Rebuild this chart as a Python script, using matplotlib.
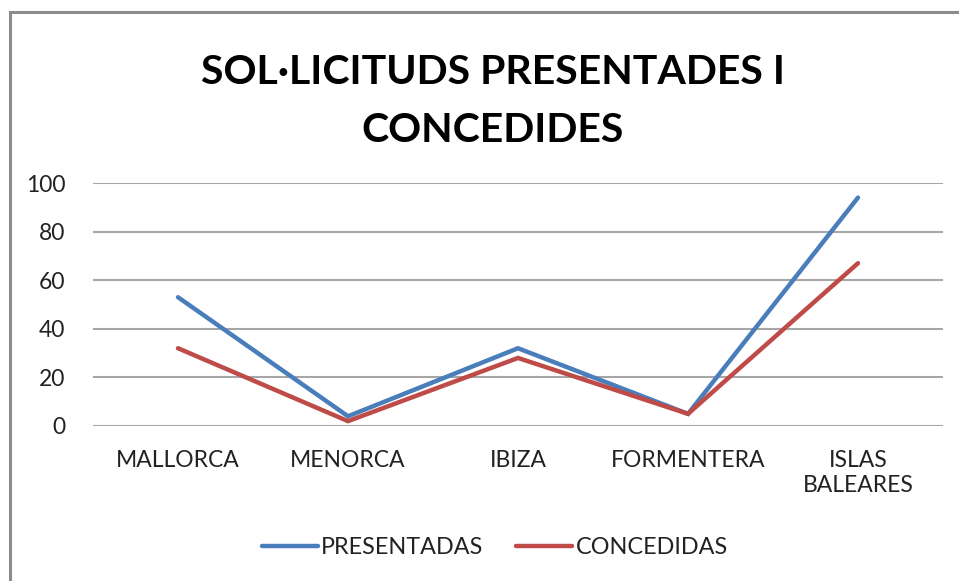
import matplotlib.pyplot as plt
from matplotlib.patches import Rectangle

# chart values
islands = ['MALLORCA', 'MENORCA', 'IBIZA', 'FORMENTERA', 'ISLAS\nBALEARES']
presentadas = [53, 4, 32, 5, 94]
concedidas = [32, 2, 28, 5, 67]
yticks = [0, 20, 40, 60, 80, 100]

plt.rcParams['font.family'] = ['Lato', 'DejaVu Sans']

W, H = 959, 581
fig = plt.figure(figsize=(W / 100, H / 100), dpi=100)

# outer chart border, runs off the right and bottom edges
fig.patches.append(Rectangle((10 / W, -0.05), 1.2, 1 - 12 / H + 0.05,
                             transform=fig.transFigure, fill=False,
                             edgecolor='#8c8c8c', linewidth=2.2))

ax = fig.add_axes([93 / W, 1 - 426 / H, 850 / W, 243 / H])
x = list(range(len(islands)))
ax.plot(x, presentadas, color='#4A7EBB', linewidth=3.2, label='PRESENTADAS',
        solid_capstyle='round', solid_joinstyle='miter', zorder=3)
ax.plot(x, concedidas, color='#BE4B48', linewidth=3.2, label='CONCEDIDAS',
        solid_capstyle='round', solid_joinstyle='miter', zorder=3)

ax.set_xlim(-0.5, len(islands) - 0.5)
ax.set_ylim(0, 100)
ax.set_yticks(yticks)
ax.set_xticks(x)
ax.set_xticklabels(islands, fontsize=16.5, color='#222222', linespacing=1.25)
ax.tick_params(axis='both', length=0, labelsize=16.5, colors='#222222')
ax.tick_params(axis='y', pad=20)
ax.tick_params(axis='x', pad=17)
ax.grid(axis='y', color='#a6a6a6', linewidth=1.5)
ax.set_axisbelow(True)
for s in ax.spines.values():
    s.set_visible(False)

fig.text(493 / W, 1 - 73 / H, 'SOL·LICITUDS PRESENTADES I', ha='center', va='center',
         fontsize=29.5, fontweight='bold', color='black')
fig.text(493 / W, 1 - 130 / H, 'CONCEDIDES', ha='center', va='center',
         fontsize=29.5, fontweight='bold', color='black')

fig.legend(loc='center', bbox_to_anchor=(495 / W, 1 - 548 / H), ncol=2, frameon=False,
           fontsize=16.8, handlelength=2.4, handletextpad=0.15, columnspacing=1.4,
           labelcolor='#222222')

fig.savefig('out.png', dpi=100)
